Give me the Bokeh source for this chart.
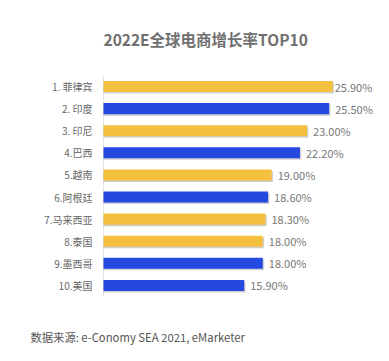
from bokeh.plotting import figure
from bokeh.models import ColumnDataSource, Label, Range1d
from bokeh.core.properties import value
from bokeh.transform import dodge
from bokeh.embed import file_html
from bokeh.resources import INLINE

# ---- data ----
categories = ["1. 菲律宾", "2. 印度", "3. 印尼", "4.巴西", "5.越南",
              "6.阿根廷", "7.马来西亚", "8.泰国", "9.墨西哥", "10.美国"]
growth = [25.9, 25.5, 23.0, 22.2, 19.0, 18.6, 18.3, 18.0, 18.0, 15.9]
groups = ["asean", "other", "asean", "other", "asean",
          "other", "asean", "asean", "other", "other"]
value_labels = ["25.90%", "25.50%", "23.00%", "22.20%", "19.00%",
                "18.60%", "18.30%", "18.00%", "18.00%", "15.90%"]
title_text = "2022E全球电商增长率TOP10"
source_text = "数据来源: e-Conomy SEA 2021, eMarketer"

# ---- style / layout ----
color_map = {"asean": "#F5BF40", "other": "#2549E0"}
label_offsets = [2, 6, 6, 6, 6, 6, 6, 6, 6, 6]
FONT = "Noto Sans CJK SC"
W, H = 373, 345
ZERO_PX, PX_PER_PCT = 103, 8.85      # x scale
FIRST_ROW_PX, ROW_PX = 86, 22.1      # y scale

n = len(categories)
rows = [-i for i in range(n)]

src = ColumnDataSource(dict(
    cat=categories,
    row=rows,
    growth=growth,
    color=[color_map[g] for g in groups],
    label=value_labels,
    off=label_offsets,
))

x_range = Range1d(-ZERO_PX / PX_PER_PCT, (W - ZERO_PX) / PX_PER_PCT)
y_range = Range1d(-(H - FIRST_ROW_PX) / ROW_PX, FIRST_ROW_PX / ROW_PX)

p = figure(width=W, height=H, output_backend="svg", toolbar_location=None,
           title=None, x_range=x_range, y_range=y_range,
           min_border=0, min_border_left=0, min_border_right=0,
           min_border_top=0, min_border_bottom=0)
p.axis.visible = False
p.grid.visible = False
p.outline_line_color = None

# category axis line
p.segment(x0=[0], x1=[0], y0=[max(rows) + 0.5], y1=[min(rows) - 0.5],
          line_color="#e6e6e6", line_width=1)

# bar shadow
p.hbar(y=dodge("row", -0.07), left=0, right=dodge("growth", 0.15),
       height=0.5, source=src, fill_color="#9a9a9a", fill_alpha=0.45, line_color=None)
# bars
p.hbar(y="row", left=0, right="growth", height=0.5, source=src,
       fill_color="color", line_color=None)

# category labels
p.text(x=0, y="row", text="cat", source=src, x_offset=-11,
       text_align="right", text_baseline="middle",
       text_font=value(FONT), text_font_size="10px", text_color="#666666")
# value labels
p.text(x="growth", y="row", text="label", source=src, x_offset="off",
       text_align="left", text_baseline="middle",
       text_font=value(FONT), text_font_size="11px", text_color="#777777")

p.add_layout(Label(x=103, y=H - 38, x_units="screen", y_units="screen", text=title_text,
                   text_font=FONT, text_font_size="15.5px", text_font_style="bold",
                   text_color="#707070", text_baseline="middle", text_align="left"))
p.add_layout(Label(x=30, y=H - 336, x_units="screen", y_units="screen", text=source_text,
                   text_font=FONT, text_font_size="11.3px",
                   text_color="#555555", text_baseline="middle", text_align="left"))

open("out.html", "w").write(file_html(p, INLINE))
